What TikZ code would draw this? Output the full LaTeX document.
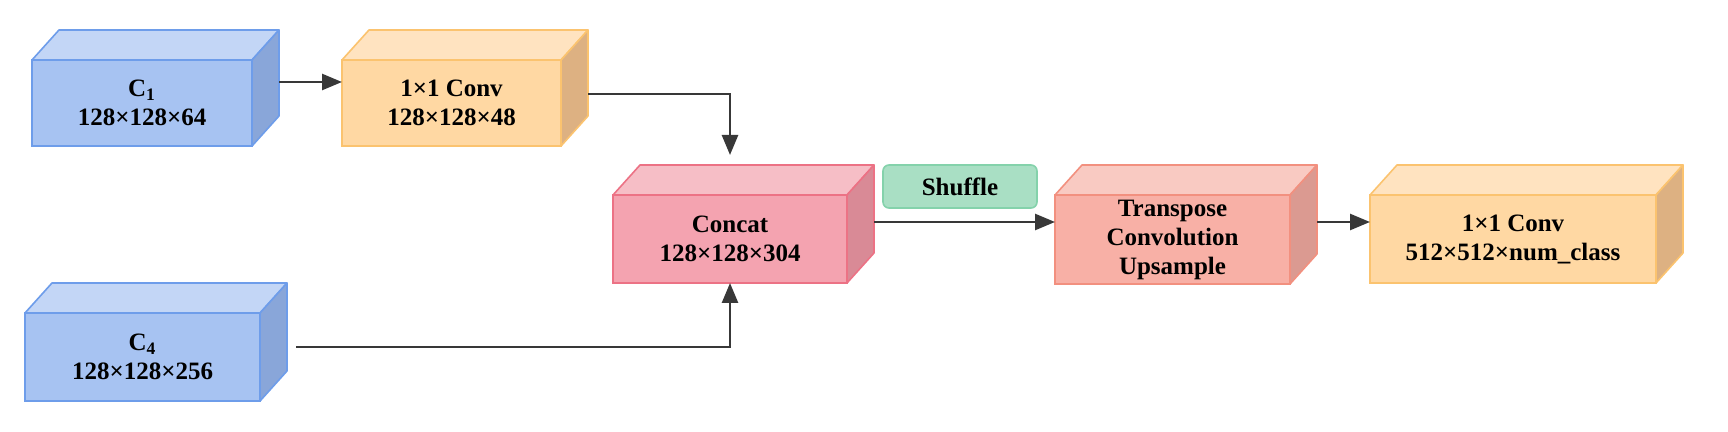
\documentclass[tikz,border=0pt]{standalone}
\usepackage{fontspec}
\setmainfont{Liberation Serif}
\usetikzlibrary{arrows.meta,calc}
\definecolor{bluefront}{HTML}{A7C3F2}
\definecolor{bluetop}{HTML}{C3D6F6}
\definecolor{blueside}{HTML}{89A6D9}
\definecolor{blueline}{HTML}{6E9DEA}
\definecolor{orfront}{HTML}{FFD8A3}
\definecolor{ortop}{HTML}{FFE3C0}
\definecolor{orside}{HTML}{DDB182}
\definecolor{orline}{HTML}{FBC36F}
\definecolor{pkfront}{HTML}{F4A3B0}
\definecolor{pktop}{HTML}{F6BEC6}
\definecolor{pkside}{HTML}{D98A96}
\definecolor{pkline}{HTML}{EC7285}
\definecolor{smfront}{HTML}{F8B0A6}
\definecolor{smtop}{HTML}{F9CAC2}
\definecolor{smside}{HTML}{DB9A91}
\definecolor{smline}{HTML}{F2907F}
\definecolor{grfill}{HTML}{A9DFC4}
\definecolor{grline}{HTML}{84D2AB}
\newcommand{\cubefaces}[4]{
\filldraw[fill=#2,draw=#4,line width=0.8pt,line join=round] (#1.north west) -- ++(27,-30) -- ([shift={(27,-30)}]#1.north east) -- (#1.north east) -- cycle;
\filldraw[fill=#3,draw=#4,line width=0.8pt,line join=round] (#1.north east) -- ([shift={(27,-30)}]#1.north east) -- ([shift={(27,-30)}]#1.south east) -- (#1.south east) -- cycle;
\coordinate (#1-se) at ([shift={(27,-30)}]#1.south east);
}

\begin{document}
\begin{tikzpicture}[x=0.5pt,y=-0.5pt,>={Triangle[length=10pt,width=8pt]},
  cube/.style={draw,line width=0.8pt,minimum height=44pt,inner sep=0pt,outer sep=0pt,align=center,font=\bfseries\fontsize{12.5}{14.5}\selectfont},
  link/.style={->,line width=1.3pt,draw=black!78}]
\useasboundingbox (0,0) rectangle (1728,432);
\node[cube,fill=bluefront,draw=blueline,minimum width=110pt,minimum height=43pt] (c1) at (142,103) {C\textsubscript{1}\\128×128×64};
\cubefaces{c1}{bluetop}{blueside}{blueline}
\node[cube,fill=orfront,draw=orline,minimum width=109.5pt,minimum height=43pt] (conv1) at (451.5,103) {1×1 Conv\\128×128×48};
\cubefaces{conv1}{ortop}{orside}{orline}
\node[cube,fill=bluefront,draw=blueline,minimum width=117.5pt] (c4) at (142.5,357) {C\textsubscript{4}\\128×128×256};
\cubefaces{c4}{bluetop}{blueside}{blueline}
\node[cube,fill=pkfront,draw=pkline,minimum width=117pt] (concat) at (730,239) {Concat\\128×128×304};
\cubefaces{concat}{pktop}{pkside}{pkline}
\node[cube,fill=smfront,draw=smline,minimum width=117.5pt,minimum height=44.5pt] (trans) at (1172.5,239.5) {Transpose\\Convolution\\Upsample};
\cubefaces{trans}{smtop}{smside}{smline}
\node[cube,fill=orfront,draw=orline,minimum width=143pt] (conv2) at (1513,239) {1×1 Conv\\512×512×num\_class};
\cubefaces{conv2}{ortop}{orside}{orline}
\node[draw=grline,fill=grfill,line width=0.8pt,rounded corners=3pt,minimum width=77pt,minimum height=21.5pt,inner sep=0pt,font=\bfseries\fontsize{12.5}{14.5}\selectfont] (shuffle) at (960,186.5) {Shuffle};
\draw[link] (c1-se |- 0,82) -- (conv1.west |- 0,82);
\draw[link] (conv1-se |- 0,94) -| ([yshift=20pt]concat.north);
\draw[link] ($(c4-se |- 0,347)+(9,0)$) -| (concat.south);
\draw[link] (concat-se |- 0,222) -- (trans.west |- 0,222);
\draw[link] (trans-se |- 0,222) -- (conv2.west |- 0,222);
\end{tikzpicture}
\end{document}
